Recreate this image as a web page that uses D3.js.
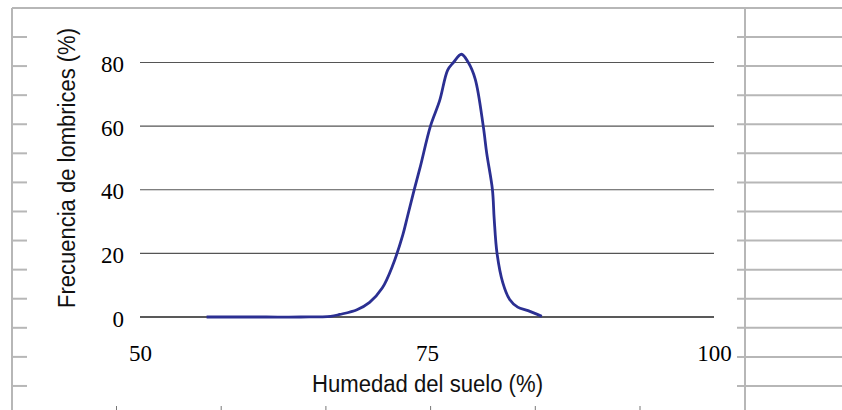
<!DOCTYPE html>
<html>
<head>
<meta charset="utf-8">
<script src="https://cdn.jsdelivr.net/npm/d3@7"></script>
<style>
  html, body { margin: 0; padding: 0; background: #ffffff; }
  svg { display: block; }
</style>
</head>
<body>
<svg id="chart" width="842" height="410"></svg>
<script>
// ---- data ----
const humedad = [55.8, 58, 61, 64, 66.6, 67.4, 68.9, 70.0, 71.1, 72.0, 72.9, 73.3, 73.8, 74.4, 75.3, 76.1, 76.8, 77.3, 78.0, 78.6, 79.2, 79.9, 80.2, 80.7, 80.85, 81.1, 81.6, 82.2, 82.9, 83.8, 85.0];
const frecuencia = [0, 0, 0, 0, 0.2, 0.8, 2.3, 4.6, 9.1, 16.1, 25.9, 31.6, 38.8, 47, 60, 68, 77.6, 80, 82.6, 80, 74.8, 60, 51.5, 40, 31, 20, 10.8, 5.5, 3.1, 2, 0.2];
const xTicks = [50, 75, 100];
const yTicks = [0, 20, 40, 60, 80];
const xTitle = "Humedad del suelo (%)";
const yTitle = "Frecuencia de lombrices (%)";

const svg = d3.select("#chart");

// ---- spreadsheet-like frame decorations ----
const frameColor = "#b7b7b7";
svg.append("line").attr("x1", 12).attr("x2", 842).attr("y1", 8).attr("y2", 8)
  .attr("stroke", frameColor).attr("stroke-width", 2);
svg.append("line").attr("x1", 12).attr("x2", 12).attr("y1", 8).attr("y2", 410)
  .attr("stroke", frameColor).attr("stroke-width", 2);
svg.append("line").attr("x1", 745).attr("x2", 745).attr("y1", 8).attr("y2", 410)
  .attr("stroke", frameColor).attr("stroke-width", 2);
const rowYs = d3.range(13).map(i => 37 + i * 29.08);
svg.append("g").selectAll("line").data(rowYs).join("line")
  .attr("x1", 12).attr("x2", 27).attr("y1", d => d).attr("y2", d => d)
  .attr("stroke", frameColor).attr("stroke-width", 2);
svg.append("g").selectAll("line").data(rowYs).join("line")
  .attr("x1", 737).attr("x2", 842).attr("y1", d => d).attr("y2", d => d)
  .attr("stroke", frameColor).attr("stroke-width", 2);
const colXs = d3.range(6).map(i => 116.5 + i * 104.7);
svg.append("g").selectAll("line").data(colXs).join("line")
  .attr("x1", d => d).attr("x2", d => d).attr("y1", 406).attr("y2", 410)
  .attr("stroke", "#777").attr("stroke-width", 1);

// ---- scales ----
const x = d3.scaleLinear().domain([50, 100]).range([140, 714]);
const y = d3.scaleLinear().domain([0, 80]).range([317, 62.5]);

// gridlines
const grid = svg.append("g");
grid.selectAll("line").data(yTicks).join("line")
  .attr("x1", x(50)).attr("x2", x(100))
  .attr("y1", d => y(d)).attr("y2", d => y(d))
  .attr("stroke", d => d === 0 ? "#222" : "#555")
  .attr("stroke-width", d => d === 0 ? 1.5 : 1.2);

// y axis labels (no axis line)
const yAxis = d3.axisLeft(y).tickValues(yTicks).tickSize(0).tickPadding(0).tickFormat(d3.format("d"));
const yg = svg.append("g").attr("transform", "translate(124,0)").call(yAxis);
yg.select(".domain").remove();
yg.selectAll("text")
  .attr("font-family", "'Liberation Serif', 'Times New Roman', serif")
  .attr("font-size", 23).attr("fill", "#000")
  .attr("dy", null).attr("dominant-baseline", "auto")
  .attr("y", 9);

// x axis labels
const xAxis = d3.axisBottom(x).tickValues(xTicks).tickSize(0).tickPadding(0).tickFormat(d3.format("d"));
const xg = svg.append("g").attr("transform", "translate(0,0)").call(xAxis);
xg.select(".domain").remove();
xg.selectAll("text")
  .attr("font-family", "'Liberation Serif', 'Times New Roman', serif")
  .attr("font-size", 23).attr("fill", "#000")
  .attr("dy", null).attr("y", 361);

// line
const line = d3.line()
  .x((d, i) => x(humedad[i]))
  .y(d => y(d))
  .curve(d3.curveCatmullRom.alpha(0.5));
svg.append("path").datum(frecuencia)
  .attr("d", line)
  .attr("fill", "none")
  .attr("stroke", "#2b2f92")
  .attr("stroke-width", 2.8)
  .attr("stroke-linejoin", "round");

// titles
svg.append("text")
  .attr("x", 427.5).attr("y", 392)
  .attr("text-anchor", "middle")
  .attr("font-family", "'Liberation Sans', Arial, sans-serif")
  .attr("font-size", 23).attr("fill", "#111")
  .attr("textLength", 231).attr("lengthAdjust", "spacingAndGlyphs")
  .text(xTitle);

svg.append("text")
  .attr("transform", "translate(74.5,168) rotate(-90)")
  .attr("text-anchor", "middle")
  .attr("font-family", "'Liberation Sans', Arial, sans-serif")
  .attr("font-size", 23).attr("fill", "#111")
  .attr("textLength", 280).attr("lengthAdjust", "spacingAndGlyphs")
  .text(yTitle);
</script>
</body>
</html>
